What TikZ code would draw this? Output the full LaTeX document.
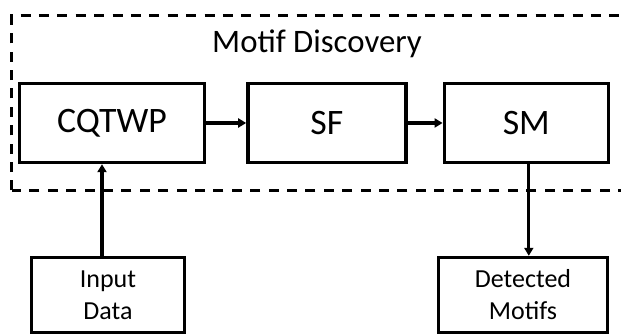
\documentclass[tikz,border=0pt]{standalone}
\usepackage{fontspec}
\setmainfont{Carlito}
\usetikzlibrary{positioning,arrows.meta}

\begin{document}
\begin{tikzpicture}[
    node distance=20pt,
    every node/.style={
        align=center,
        inner sep=0pt
    },
    block/.style={
        draw,
        line width=1.7pt,
        minimum width=92.5pt,
        minimum height=39.5pt,
        font=\fontsize{17.9}{21}\selectfont
    },
    io/.style={
        draw,
        line width=1.7pt,
        minimum height=37.5pt,
        font=\fontsize{13}{16}\selectfont
    },
    arrow/.style={-{Triangle[length=4pt,width=4.5pt]}, line width=1.6pt}
]

\useasboundingbox (0,0) rectangle (310.5pt,167.5pt);
\clip (0,0) rectangle (310.5pt,167.5pt);

% group frame
\draw [line width=1.7pt, dash pattern=on 5pt off 4.2pt]
    (5.75pt,72.25pt) rectangle (330pt,159.75pt);

\node (title) [anchor=base, font=\fontsize{16.4}{19}\selectfont]
    at (158.5pt,141pt) {Motif Discovery};

\node (cqtwp) [block] at (56pt,106pt) {CQTWP};

\node (sf) [block, minimum width=79pt, right=of cqtwp] {SF};

\node (sm) [block, minimum width=82pt, right=17.5pt of sf] {SM};

\node (input) [io, minimum width=76.5pt] at (54pt,20pt) {Input\\Data};

\node (detected) [io, minimum width=84.5pt] at (261.5pt,20pt) {Detected\\Motifs};

\draw [arrow] (cqtwp) -- (sf);
\draw [arrow] (sf) -- (sm);
\draw [arrow] ([xshift=-3pt]input.north) -- ([xshift=-3pt]input.north |- cqtwp.south);
\draw [arrow] ([xshift=1.25pt]sm.south) -- ([xshift=1.25pt]sm.south |- detected.north);

\end{tikzpicture}
\end{document}
